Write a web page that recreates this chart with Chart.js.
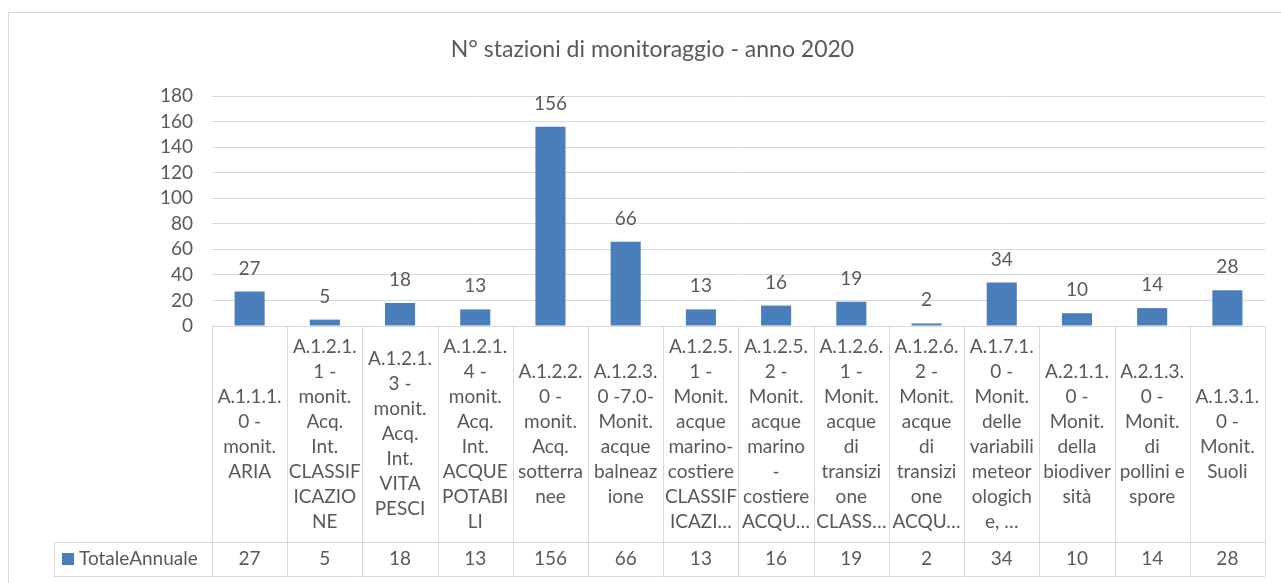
<!DOCTYPE html>
<html lang="it">
<head>
<meta charset="utf-8">
<title>N° stazioni di monitoraggio - anno 2020</title>
<script src="https://cdn.jsdelivr.net/npm/chart.js"></script>
<style>
  body{margin:0;background:#fff;overflow:hidden}
  #wrap{position:relative;width:1281px;height:583px}
</style>
</head>
<body>
<div id="wrap"><canvas id="chart"></canvas></div>
<script>
// categorie (già spezzate come nella tabella dati di Excel)
const categories = [
  ['A.1.1.1.','0 -','monit.','ARIA'],
  ['A.1.2.1.','1 -','monit.','Acq.','Int.','CLASSIF','ICAZIO','NE'],
  ['A.1.2.1.','3 -','monit.','Acq.','Int.','VITA','PESCI'],
  ['A.1.2.1.','4 -','monit.','Acq.','Int.','ACQUE','POTABI','LI'],
  ['A.1.2.2.','0 -','monit.','Acq.','sotterra','nee'],
  ['A.1.2.3.','0 -7.0-','Monit.','acque','balneaz','ione'],
  ['A.1.2.5.','1 -','Monit.','acque','marino-','costiere','CLASSIF','ICAZI…'],
  ['A.1.2.5.','2 -','Monit.','acque','marino','-','costiere','ACQU…'],
  ['A.1.2.6.','1 -','Monit.','acque','di','transizi','one','CLASS…'],
  ['A.1.2.6.','2 -','Monit.','acque','di','transizi','one','ACQU…'],
  ['A.1.7.1.','0 -','Monit.','delle','variabili','meteor','ologich','e, …'],
  ['A.2.1.1.','0 -','Monit.','della','biodiver','sità'],
  ['A.2.1.3.','0 -','Monit.','di','pollini e','spore'],
  ['A.1.3.1.','0 -','Monit.','Suoli']
];
const totaleAnnuale = [27, 5, 18, 13, 156, 66, 13, 16, 19, 2, 34, 10, 14, 28];
const seriesName = 'TotaleAnnuale';
const yTicks = [0, 20, 40, 60, 80, 100, 120, 140, 160, 180];

const TXT = '#595959';
const LINE = '#d9d9d9';
const BLUE = '#4a7ebb';
const FONT = 'Lato, "Liberation Sans", sans-serif';
const FS = 19;

// cornice esterna del grafico
const frame = {
  id: 'frame',
  beforeDraw(chart) {
    const ctx = chart.ctx;
    ctx.save();
    ctx.fillStyle = '#fff';
    ctx.fillRect(0, 0, chart.width, chart.height);
    ctx.strokeStyle = LINE;
    ctx.lineWidth = 1;
    ctx.strokeRect(8.5, 12.5, chart.width + 20, chart.height + 20);
    ctx.restore();
  }
};

// etichette valori sopra le barre
const barLabels = {
  id: 'barLabels',
  afterDatasetsDraw(chart) {
    const ctx = chart.ctx;
    const meta = chart.getDatasetMeta(0);
    ctx.save();
    ctx.font = FS + 'px ' + FONT;
    ctx.fillStyle = TXT;
    ctx.textAlign = 'center';
    ctx.textBaseline = 'alphabetic';
    meta.data.forEach((bar, i) => {
      ctx.fillText(String(totaleAnnuale[i]), bar.x, bar.y - 17);
    });
    ctx.restore();
  }
};

// tabella dati sotto l'asse x
const dataTable = {
  id: 'dataTable',
  afterDraw(chart) {
    const ctx = chart.ctx;
    const x = chart.scales.x;
    const top = chart.chartArea.bottom;
    const labelH = 216, rowH = 34;
    const half = (x.getPixelForValue(1) - x.getPixelForValue(0)) / 2;
    const left = x.getPixelForValue(0) - half;
    const right = x.getPixelForValue(categories.length - 1) + half;
    const rowTop = top + labelH, bottom = rowTop + rowH;
    const legendLeft = 54;

    ctx.save();
    ctx.strokeStyle = LINE;
    ctx.lineWidth = 1;
    ctx.beginPath();
    // linee orizzontali
    ctx.moveTo(left, top + 0.5); ctx.lineTo(right, top + 0.5);
    ctx.moveTo(legendLeft, Math.round(rowTop) + 0.5); ctx.lineTo(right, Math.round(rowTop) + 0.5);
    ctx.moveTo(legendLeft, Math.round(bottom) + 0.5); ctx.lineTo(right, Math.round(bottom) + 0.5);
    // linee verticali
    for (let i = 0; i <= categories.length; i++) {
      const px = Math.round(left + i * 2 * half) + 0.5;
      ctx.moveTo(px, top); ctx.lineTo(px, bottom);
    }
    ctx.moveTo(legendLeft + 0.5, rowTop); ctx.lineTo(legendLeft + 0.5, bottom);
    ctx.stroke();

    ctx.font = FS + 'px ' + FONT;
    ctx.fillStyle = TXT;
    ctx.textAlign = 'center';
    ctx.textBaseline = 'middle';
    const lh = 25;
    categories.forEach((lines, i) => {
      const cx = x.getPixelForValue(i);
      const cy = top + labelH / 2;
      const y0 = cy - (lines.length - 1) * lh / 2;
      lines.forEach((t, k) => ctx.fillText(t, cx, y0 + k * lh));
      ctx.fillText(String(totaleAnnuale[i]), cx, rowTop + rowH / 2);
    });

    // legenda nella tabella
    ctx.fillStyle = BLUE;
    ctx.fillRect(62, rowTop + 11, 12, 12);
    ctx.fillStyle = TXT;
    ctx.textAlign = 'left';
    ctx.fillText(seriesName, 79, rowTop + rowH / 2);
    ctx.restore();
  }
};

new Chart(document.getElementById('chart'), {
  type: 'bar',
  data: {
    labels: categories,
    datasets: [{
      label: seriesName,
      data: totaleAnnuale,
      backgroundColor: BLUE,
      barPercentage: 0.4,
      categoryPercentage: 1
    }]
  },
  options: {
    responsive: true,
    maintainAspectRatio: false,
    animation: false,
    layout: { padding: { top: 12, left: 40, right: 16, bottom: 7 } },
    plugins: {
      legend: { display: false },
      tooltip: { enabled: false },
      title: {
        display: true,
        text: 'N° stazioni di monitoraggio - anno 2020',
        color: TXT,
        font: { family: FONT, size: 23, weight: 'normal' },
        padding: { top: 24, bottom: 32.4 }
      }
    },
    scales: {
      x: {
        ticks: { display: false },
        grid: { display: false },
        border: { display: false },
        afterFit(s) { s.height = 250; }
      },
      y: {
        min: 0,
        max: 180,
        afterBuildTicks(s) { s.ticks = yTicks.map(v => ({ value: v })); },
        afterFit(s) { s.width = 172; },
        ticks: { color: TXT, font: { family: FONT, size: FS }, padding: 19, autoSkip: false },
        grid: { color: LINE, drawTicks: false },
        border: { display: false }
      }
    }
  },
  plugins: [frame, barLabels, dataTable]
});
</script>
</body>
</html>
